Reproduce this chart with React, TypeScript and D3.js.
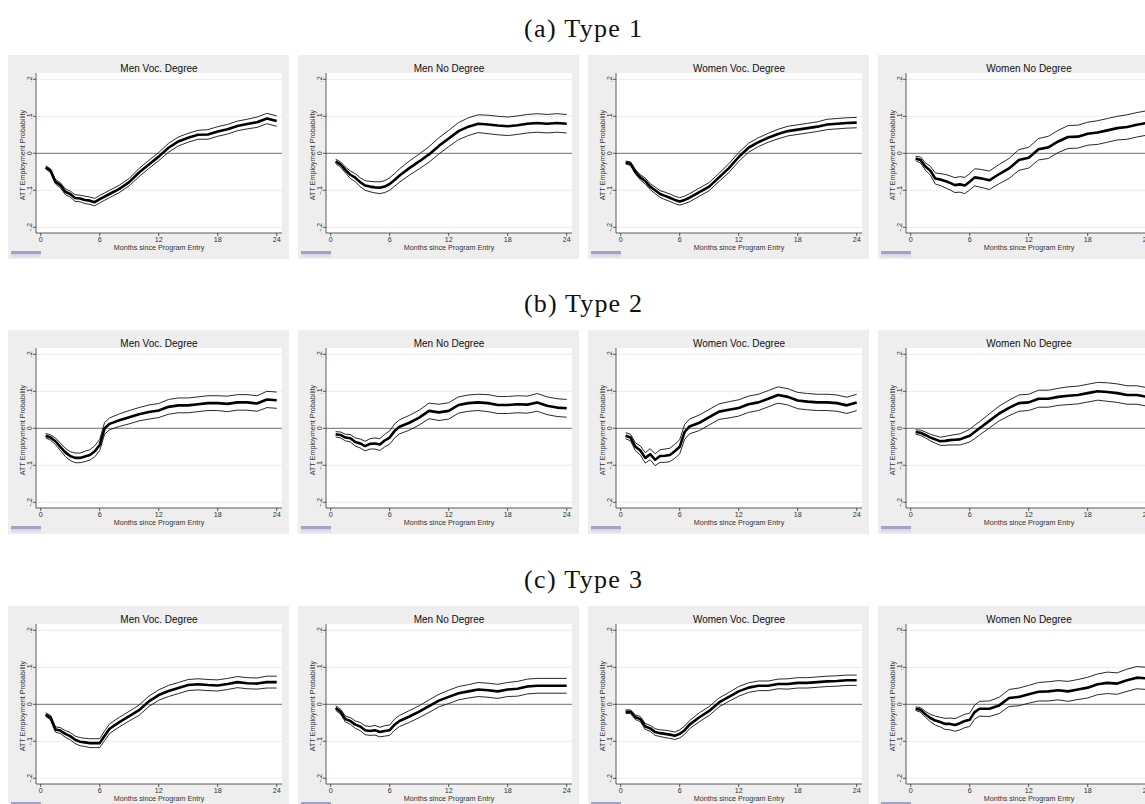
import React from "react";
import * as d3 from "d3";

// Months since program entry at which the ATT estimates are plotted
const MONTHS = [0.5, 1, 1.5, 2, 2.5, 3, 3.5, 4, 4.5, 5, 5.5, 6, 6.5, 7, 8, 9, 10, 11, 12, 13, 14, 15, 16, 17, 18, 19, 20, 21, 22, 23, 24];

const ROW_TITLES = ["(a) Type 1", "(b) Type 2", "(c) Type 3"];
const PANEL_TITLES = ["Men Voc. Degree", "Men No Degree", "Women Voc. Degree", "Women No Degree"];
const X_TICKS = [0, 6, 12, 18, 24];
const Y_TICKS = [-0.2, -0.1, 0, 0.1, 0.2];
const Y_TICK_LABELS = ["-.2", "-.1", "0", ".1", ".2"];
const X_TITLE = "Months since Program Entry";
const Y_TITLE = "ATT Employment Probability";

// Type 1: point estimates and confidence band half-widths
const t1MenVoc = [-0.038, -0.047, -0.077, -0.086, -0.104, -0.11, -0.121, -0.122, -0.126, -0.128, -0.132, -0.124, -0.117, -0.11, -0.096, -0.078, -0.052, -0.03, -0.009, 0.015, 0.032, 0.042, 0.05, 0.051, 0.059, 0.065, 0.074, 0.079, 0.084, 0.094, 0.087];
const t1MenVocBand = [0.004, 0.005, 0.006, 0.007, 0.008, 0.008, 0.009, 0.009, 0.01, 0.01, 0.01, 0.01, 0.01, 0.01, 0.01, 0.01, 0.011, 0.011, 0.011, 0.012, 0.012, 0.012, 0.012, 0.013, 0.013, 0.013, 0.013, 0.013, 0.014, 0.014, 0.014];
const t1MenNo = [-0.022, -0.03, -0.045, -0.058, -0.066, -0.078, -0.087, -0.09, -0.092, -0.093, -0.09, -0.083, -0.072, -0.06, -0.04, -0.022, -0.003, 0.02, 0.04, 0.06, 0.072, 0.08, 0.078, 0.075, 0.073, 0.076, 0.08, 0.082, 0.08, 0.082, 0.08];
const t1MenNoBand = [0.006, 0.007, 0.008, 0.01, 0.011, 0.012, 0.013, 0.014, 0.015, 0.016, 0.016, 0.017, 0.017, 0.018, 0.019, 0.02, 0.021, 0.022, 0.022, 0.023, 0.024, 0.024, 0.025, 0.025, 0.025, 0.025, 0.025, 0.025, 0.025, 0.025, 0.025];
const t1WomenVoc = [-0.025, -0.028, -0.05, -0.065, -0.075, -0.09, -0.1, -0.11, -0.115, -0.12, -0.126, -0.13, -0.126, -0.12, -0.105, -0.09, -0.065, -0.04, -0.01, 0.015, 0.03, 0.042, 0.052, 0.06, 0.064, 0.068, 0.072, 0.078, 0.08, 0.082, 0.083];
const t1WomenVocBand = [0.004, 0.005, 0.006, 0.007, 0.008, 0.008, 0.009, 0.009, 0.01, 0.01, 0.01, 0.01, 0.01, 0.011, 0.011, 0.011, 0.011, 0.012, 0.012, 0.012, 0.012, 0.012, 0.013, 0.013, 0.013, 0.013, 0.013, 0.014, 0.014, 0.014, 0.014];
const t1WomenNo = [-0.014, -0.018, -0.036, -0.047, -0.068, -0.071, -0.075, -0.08, -0.086, -0.084, -0.087, -0.077, -0.065, -0.067, -0.073, -0.056, -0.041, -0.018, -0.012, 0.011, 0.016, 0.032, 0.044, 0.045, 0.053, 0.056, 0.062, 0.068, 0.071, 0.077, 0.082];
const t1WomenNoBand = [0.006, 0.008, 0.01, 0.012, 0.015, 0.016, 0.018, 0.019, 0.02, 0.021, 0.022, 0.022, 0.023, 0.024, 0.025, 0.026, 0.027, 0.028, 0.028, 0.029, 0.03, 0.03, 0.031, 0.031, 0.031, 0.032, 0.032, 0.032, 0.033, 0.033, 0.033];

// Type 2
const t2MenVoc = [-0.02, -0.025, -0.035, -0.05, -0.065, -0.075, -0.08, -0.08, -0.076, -0.072, -0.062, -0.045, 0.0, 0.012, 0.022, 0.03, 0.038, 0.044, 0.048, 0.058, 0.062, 0.062, 0.065, 0.068, 0.068, 0.066, 0.07, 0.07, 0.067, 0.078, 0.076];
const t2MenVocBand = [0.006, 0.007, 0.009, 0.01, 0.011, 0.012, 0.013, 0.013, 0.014, 0.014, 0.015, 0.015, 0.016, 0.016, 0.017, 0.018, 0.018, 0.019, 0.019, 0.02, 0.02, 0.02, 0.02, 0.02, 0.02, 0.021, 0.021, 0.021, 0.021, 0.022, 0.022];
const t2MenNo = [-0.016, -0.018, -0.025, -0.027, -0.037, -0.041, -0.048, -0.042, -0.041, -0.044, -0.033, -0.025, -0.007, 0.004, 0.015, 0.029, 0.047, 0.043, 0.047, 0.063, 0.068, 0.07, 0.068, 0.063, 0.063, 0.065, 0.064, 0.07, 0.061, 0.056, 0.054];
const t2MenNoBand = [0.007, 0.008, 0.009, 0.01, 0.011, 0.012, 0.013, 0.014, 0.015, 0.016, 0.017, 0.018, 0.019, 0.019, 0.02, 0.02, 0.021, 0.022, 0.022, 0.022, 0.022, 0.022, 0.023, 0.023, 0.023, 0.023, 0.023, 0.024, 0.024, 0.024, 0.024];
const t2WomenVoc = [-0.02, -0.025, -0.05, -0.06, -0.08, -0.07, -0.085, -0.075, -0.074, -0.072, -0.062, -0.05, -0.01, 0.005, 0.015, 0.03, 0.045, 0.05, 0.055, 0.065, 0.07, 0.08, 0.09, 0.085, 0.075, 0.072, 0.07, 0.07, 0.068, 0.062, 0.07];
const t2WomenVocBand = [0.008, 0.009, 0.011, 0.012, 0.014, 0.015, 0.016, 0.017, 0.018, 0.018, 0.019, 0.019, 0.02, 0.02, 0.021, 0.021, 0.021, 0.022, 0.022, 0.022, 0.022, 0.022, 0.022, 0.022, 0.022, 0.022, 0.022, 0.022, 0.022, 0.022, 0.022];
const t2WomenNo = [-0.01, -0.012, -0.018, -0.025, -0.03, -0.035, -0.034, -0.032, -0.031, -0.03, -0.025, -0.02, -0.01, 0.0, 0.02, 0.04, 0.055, 0.068, 0.07, 0.08, 0.08, 0.085, 0.088, 0.09, 0.095, 0.1, 0.098, 0.095, 0.09, 0.09, 0.085];
const t2WomenNoBand = [0.006, 0.007, 0.008, 0.009, 0.01, 0.011, 0.012, 0.013, 0.014, 0.015, 0.016, 0.017, 0.018, 0.018, 0.019, 0.02, 0.021, 0.022, 0.022, 0.023, 0.023, 0.023, 0.024, 0.024, 0.024, 0.024, 0.025, 0.025, 0.025, 0.025, 0.025];

// Type 3
const t3MenVoc = [-0.028, -0.036, -0.068, -0.071, -0.08, -0.086, -0.096, -0.101, -0.103, -0.105, -0.105, -0.105, -0.085, -0.066, -0.048, -0.032, -0.016, 0.008, 0.025, 0.036, 0.044, 0.052, 0.054, 0.052, 0.051, 0.055, 0.06, 0.057, 0.056, 0.06, 0.06];
const t3MenVocBand = [0.005, 0.006, 0.007, 0.008, 0.009, 0.01, 0.01, 0.011, 0.011, 0.012, 0.012, 0.012, 0.013, 0.013, 0.013, 0.013, 0.014, 0.014, 0.014, 0.015, 0.015, 0.015, 0.015, 0.015, 0.015, 0.015, 0.015, 0.015, 0.015, 0.016, 0.016];
const t3MenNo = [-0.01, -0.02, -0.04, -0.045, -0.055, -0.06, -0.07, -0.072, -0.07, -0.075, -0.072, -0.07, -0.055, -0.045, -0.033, -0.02, -0.005, 0.01, 0.02, 0.03, 0.035, 0.04, 0.038, 0.035, 0.04, 0.042, 0.048, 0.05, 0.05, 0.05, 0.05];
const t3MenNoBand = [0.006, 0.007, 0.008, 0.009, 0.01, 0.011, 0.012, 0.012, 0.013, 0.013, 0.014, 0.014, 0.015, 0.015, 0.016, 0.016, 0.017, 0.017, 0.018, 0.018, 0.018, 0.019, 0.019, 0.019, 0.019, 0.02, 0.02, 0.02, 0.02, 0.02, 0.02];
const t3WomenVoc = [-0.02, -0.02, -0.035, -0.04, -0.06, -0.065, -0.075, -0.078, -0.08, -0.082, -0.085, -0.08, -0.07, -0.055, -0.035, -0.018, 0.005, 0.02, 0.035, 0.045, 0.05, 0.05, 0.055, 0.055, 0.058, 0.058, 0.06, 0.062, 0.063, 0.065, 0.065];
const t3WomenVocBand = [0.005, 0.005, 0.006, 0.007, 0.008, 0.008, 0.009, 0.009, 0.01, 0.01, 0.01, 0.011, 0.011, 0.011, 0.012, 0.012, 0.012, 0.012, 0.013, 0.013, 0.013, 0.013, 0.013, 0.014, 0.014, 0.014, 0.014, 0.014, 0.014, 0.014, 0.014];
const t3WomenNo = [-0.012, -0.015, -0.027, -0.037, -0.044, -0.048, -0.053, -0.053, -0.056, -0.051, -0.045, -0.042, -0.021, -0.012, -0.012, -0.003, 0.017, 0.02, 0.027, 0.034, 0.035, 0.038, 0.035, 0.04, 0.045, 0.054, 0.058, 0.056, 0.065, 0.072, 0.07];
const t3WomenNoBand = [0.005, 0.006, 0.008, 0.01, 0.012, 0.013, 0.015, 0.016, 0.017, 0.018, 0.018, 0.018, 0.019, 0.02, 0.021, 0.022, 0.023, 0.024, 0.024, 0.025, 0.026, 0.026, 0.027, 0.027, 0.028, 0.028, 0.029, 0.029, 0.03, 0.03, 0.03];

const GRID: { center: number[]; band: number[] }[][] = [
  [
    { center: t1MenVoc, band: t1MenVocBand },
    { center: t1MenNo, band: t1MenNoBand },
    { center: t1WomenVoc, band: t1WomenVocBand },
    { center: t1WomenNo, band: t1WomenNoBand },
  ],
  [
    { center: t2MenVoc, band: t2MenVocBand },
    { center: t2MenNo, band: t2MenNoBand },
    { center: t2WomenVoc, band: t2WomenVocBand },
    { center: t2WomenNo, band: t2WomenNoBand },
  ],
  [
    { center: t3MenVoc, band: t3MenVocBand },
    { center: t3MenNo, band: t3MenNoBand },
    { center: t3WomenVoc, band: t3WomenVocBand },
    { center: t3WomenNo, band: t3WomenNoBand },
  ],
];

// Layout of the figure
const PANEL_W = 281;
const PANEL_H = 204;
const COL_X = [8, 298, 588, 878];
const ROW_Y = [55, 330, 606];
const PLOT = { left: 28, right: 274, top: 18, bottom: 178 };
const SANS = "'Liberation Sans', Arial, Helvetica, sans-serif";
const SMALL = 7.2;

function Panel({ x, y, title, center, band }: { x: number; y: number; title: string; center: number[]; band: number[] }) {
  const xs = d3.scaleLinear().domain([0, 24]).range([32.7, 268.7]);
  const ys = d3.scaleLinear().domain([-0.2, 0.2]).range([172.3, 24.3]);
  const line = d3
    .line<number>()
    .x((_, i) => xs(MONTHS[i]))
    .y((d) => ys(d));
  const upper = center.map((c, i) => c + band[i]);
  const lower = center.map((c, i) => c - band[i]);
  const midX = (PLOT.left + PLOT.right) / 2;
  const midY = (PLOT.top + PLOT.bottom) / 2;

  return (
    <g transform={`translate(${x},${y})`}>
      <rect x={0} y={0} width={PANEL_W} height={PANEL_H} fill="#eeeeee" />
      <rect x={PLOT.left} y={PLOT.top} width={PLOT.right - PLOT.left} height={PLOT.bottom - PLOT.top} fill="#ffffff" />
      {Y_TICKS.filter((t) => t !== 0).map((t) => (
        <line key={t} x1={PLOT.left} x2={PLOT.right} y1={ys(t)} y2={ys(t)} stroke="#ececec" strokeWidth={1} />
      ))}
      <line x1={PLOT.left} x2={PLOT.right} y1={ys(0)} y2={ys(0)} stroke="#6f6f6f" strokeWidth={1} />
      <path d={line(upper) ?? ""} fill="none" stroke="#111" strokeWidth={0.9} />
      <path d={line(lower) ?? ""} fill="none" stroke="#111" strokeWidth={0.9} />
      <path d={line(center) ?? ""} fill="none" stroke="#000" strokeWidth={2.6} strokeLinejoin="round" />
      {/* axes */}
      <line x1={PLOT.left} x2={PLOT.left} y1={PLOT.top} y2={PLOT.bottom} stroke="#333" strokeWidth={0.8} />
      <line x1={PLOT.left} x2={PLOT.right} y1={PLOT.bottom} y2={PLOT.bottom} stroke="#333" strokeWidth={0.8} />
      {Y_TICKS.map((t, i) => (
        <g key={t}>
          <line x1={PLOT.left - 3} x2={PLOT.left} y1={ys(t)} y2={ys(t)} stroke="#333" strokeWidth={0.8} />
          <text
            transform={`translate(${PLOT.left - 4},${ys(t)}) rotate(-90)`}
            textAnchor="middle"
            fontFamily={SANS}
            fontSize={SMALL}
            fill="#333"
          >
            {Y_TICK_LABELS[i]}
          </text>
        </g>
      ))}
      {X_TICKS.map((t) => (
        <g key={t}>
          <line x1={xs(t)} x2={xs(t)} y1={PLOT.bottom} y2={PLOT.bottom + 3} stroke="#333" strokeWidth={0.8} />
          <text x={xs(t)} y={PLOT.bottom + 9} textAnchor="middle" fontFamily={SANS} fontSize={SMALL} fill="#333">
            {t}
          </text>
        </g>
      ))}
      <text x={midX} y={PLOT.bottom + 17.3} textAnchor="middle" fontFamily={SANS} fontSize={SMALL} fill="#333">
        {X_TITLE}
      </text>
      <text
        transform={`translate(${PLOT.left - 11.5},${midY + 2}) rotate(-90)`}
        textAnchor="middle"
        fontFamily={SANS}
        fontSize={SMALL}
        fill="#333"
      >
        {Y_TITLE}
      </text>
      <text x={midX} y={16.8} textAnchor="middle" fontFamily={SANS} fontSize={10} fill="#111">
        {title}
      </text>
      {/* small badge in the lower-left corner */}
      <rect x={3} y={196} width={30} height={3.5} fill="#a3a3c6" />
      <rect x={3} y={199.5} width={30} height={3} fill="#dedeea" />
    </g>
  );
}

export default function App() {
  return (
    <svg
      width={1145}
      height={804}
      viewBox="0 0 1145 804"
      style={{ position: "absolute", left: 0, top: 0, background: "#fff" }}
    >
      <rect x={0} y={0} width={1145} height={804} fill="#fff" />
      {ROW_TITLES.map((rt, r) => (
        <g key={rt}>
          <text
            x={583}
            y={ROW_Y[r] - 18}
            textAnchor="middle"
            fontFamily="'Liberation Serif', 'Times New Roman', serif"
            fontSize={26}
            textLength={118}
            lengthAdjust="spacing"
            fill="#111"
          >
            {rt}
          </text>
          {PANEL_TITLES.map((pt, c) => (
            <Panel key={pt} x={COL_X[c]} y={ROW_Y[r]} title={pt} center={GRID[r][c].center} band={GRID[r][c].band} />
          ))}
        </g>
      ))}
    </svg>
  );
}
